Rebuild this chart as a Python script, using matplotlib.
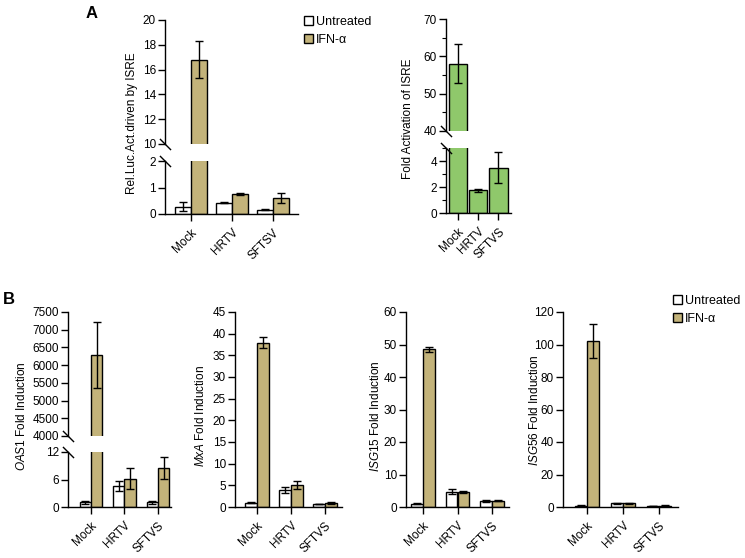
import numpy as np
import matplotlib
matplotlib.use('Agg')
import matplotlib.pyplot as plt
from matplotlib.patches import Patch
from matplotlib.ticker import MultipleLocator

plt.rcParams['font.family'] = ['Liberation Sans', 'DejaVu Sans']
plt.rcParams['font.size'] = 8.5
plt.rcParams['mathtext.fontset'] = 'custom'
plt.rcParams['mathtext.rm'] = 'Liberation Sans'
plt.rcParams['mathtext.it'] = 'Liberation Sans:italic'

W, H = 745, 558
TAN = '#c3b37a'
GREEN = '#8fc86b'

groups_a = ['Mock', 'HRTV', 'SFTSV']
groups_a2 = ['Mock', 'HRTV', 'SFTVS']
groups_b = ['Mock', 'HRTV', 'SFTVS']

# panel A left - luciferase
luc_untreated = [0.28, 0.43, 0.16]
luc_untreated_err = [0.18, 0.02, 0.02]
luc_ifn = [16.8, 0.77, 0.60]
luc_ifn_err = [1.5, 0.04, 0.20]

# panel A right - fold activation
fold_isre = [58.0, 1.75, 3.5]
fold_isre_err = [5.2, 0.12, 1.2]

# panel B
oas1_untreated = [1.0, 4.5, 1.0]
oas1_untreated_err = [0.3, 1.1, 0.3]
oas1_ifn = [6280, 6.2, 8.5]
oas1_ifn_err = [930, 2.3, 2.4]

mxa_untreated = [1.0, 3.9, 0.7]
mxa_untreated_err = [0.15, 0.7, 0.1]
mxa_ifn = [37.9, 5.1, 1.0]
mxa_ifn_err = [1.25, 1.0, 0.2]

isg15_untreated = [1.0, 4.7, 1.8]
isg15_untreated_err = [0.2, 0.8, 0.4]
isg15_ifn = [48.5, 4.5, 2.0]
isg15_ifn_err = [0.8, 0.3, 0.3]

isg56_untreated = [0.8, 2.2, 0.5]
isg56_untreated_err = [0.2, 0.3, 0.1]
isg56_ifn = [102, 2.3, 0.8]
isg56_ifn_err = [10.5, 0.4, 0.2]

fig = plt.figure(figsize=(W / 100, H / 100), dpi=100)


def px_axes(x0, y0, x1, y1):
    return fig.add_axes([x0 / W, 1 - y1 / H, (x1 - x0) / W, (y1 - y0) / H])


def style(ax, bottom=True):
    ax.spines['top'].set_visible(False)
    ax.spines['right'].set_visible(False)
    for s in ax.spines.values():
        s.set_linewidth(1.0)
    ax.tick_params(direction='out', length=5, width=1.0, pad=1.5)
    ax.tick_params(axis='x', pad=4)
    ax.tick_params(which='minor', direction='out', length=3, width=0.8)
    if not bottom:
        ax.spines['bottom'].set_visible(False)
        ax.tick_params(axis='x', bottom=False, labelbottom=False)


def pair_bars(ax, unt, unt_err, ifn, ifn_err, w):
    x = np.arange(3)
    ax.bar(x - w / 2, unt, w, color='white', edgecolor='black', linewidth=1.0, zorder=2)
    ax.bar(x + w / 2, ifn, w, color=TAN, edgecolor='black', linewidth=1.0, zorder=2)
    ax.errorbar(x - w / 2, unt, yerr=unt_err, fmt='none', ecolor='black',
                elinewidth=1.0, capsize=3, capthick=1.0, zorder=3)
    ax.errorbar(x + w / 2, ifn, yerr=ifn_err, fmt='none', ecolor='black',
                elinewidth=1.0, capsize=3, capthick=1.0, zorder=3)


def xlabels(ax, labels):
    ax.set_xticks(np.arange(3))
    ax.set_xticklabels(labels, rotation=45, ha='right', rotation_mode='anchor')


def break_marks(ax_top, ax_low):
    kw = dict(marker=[(-1, 1), (1, -1)], markersize=8, linestyle='none',
              color='k', mec='k', mew=1.0, clip_on=False)
    ax_top.plot([0], [0], transform=ax_top.transAxes, **kw)
    ax_low.plot([0], [1], transform=ax_low.transAxes, **kw)


# ---- A left (broken axis)
a1_top = px_axes(165, 20, 298, 144)
a1_low = px_axes(165, 161, 298, 214)
for ax in (a1_top, a1_low):
    pair_bars(ax, luc_untreated, luc_untreated_err, luc_ifn, luc_ifn_err, 0.4)
    ax.set_xlim(-0.634, 2.61)
a1_top.set_ylim(10, 20)
a1_top.set_yticks(range(10, 21, 2))
a1_low.set_ylim(0, 2)
a1_low.set_yticks([0, 1, 2])
style(a1_top, bottom=False)
style(a1_low)
xlabels(a1_low, groups_a)
break_marks(a1_top, a1_low)
fig.text(132 / W, 1 - 123 / H, 'Rel.Luc.Act.driven by ISRE', rotation=90, ha='center', va='center')

# ---- A right (broken axis)
a2_top = px_axes(446, 19, 511, 131)
a2_low = px_axes(446, 148, 511, 213)
x = np.arange(3)
for ax in (a2_top, a2_low):
    ax.bar(x, fold_isre, 0.9, color=GREEN, edgecolor='black', linewidth=1.0, zorder=2)
    ax.errorbar(x, fold_isre, yerr=fold_isre_err, fmt='none', ecolor='black',
                elinewidth=1.0, capsize=3, capthick=1.0, zorder=3)
    ax.set_xlim(-0.6, 2.62)
a2_top.set_ylim(40, 70)
a2_top.set_yticks([40, 50, 60, 70])
a2_top.yaxis.set_minor_locator(MultipleLocator(5))
a2_low.set_ylim(0, 5)
a2_low.set_yticks([0, 2, 4])
a2_low.yaxis.set_minor_locator(MultipleLocator(1))
style(a2_top, bottom=False)
style(a2_low)
xlabels(a2_low, groups_a2)
break_marks(a2_top, a2_low)
fig.text(408 / W, 1 - 119 / H, 'Fold Activation of ISRE', rotation=90, ha='center', va='center')

fig.text(92 / W, 1 - 14 / H, 'A', fontsize=12, fontweight='bold', ha='center', va='center')
fig.text(9 / W, 1 - 300 / H, 'B', fontsize=12, fontweight='bold', ha='center', va='center')

# ---- B OAS1 (broken axis)
b1_top = px_axes(68, 312, 171, 436)
b1_low = px_axes(68, 452, 171, 507)
for ax in (b1_top, b1_low):
    pair_bars(ax, oas1_untreated, oas1_untreated_err, oas1_ifn, oas1_ifn_err, 0.34)
    ax.set_xlim(-0.687, 2.39)
b1_top.set_ylim(4000, 7500)
b1_top.set_yticks(range(4000, 7501, 500))
b1_low.set_ylim(0, 12)
b1_low.set_yticks([0, 6, 12])
style(b1_top, bottom=False)
style(b1_low)
xlabels(b1_low, groups_b)
break_marks(b1_top, b1_low)
fig.text(22 / W, 1 - 416 / H, r'$\mathit{OAS1}$ Fold Induction', rotation=90, ha='center', va='center')

# ---- B MxA, ISG15, ISG56
simple = [
    ((235, 342), (-0.647, 2.5), 45, 5, mxa_untreated, mxa_untreated_err, mxa_ifn, mxa_ifn_err,
     r'$\mathit{MxA}$ Fold Induction', 200, 416),
    ((406, 509), (-0.49, 2.49), 60, 10, isg15_untreated, isg15_untreated_err, isg15_ifn, isg15_ifn_err,
     r'$\mathit{ISG15}$ Fold Induction', 375, 416),
    ((563, 678), (-0.667, 2.53), 120, 20, isg56_untreated, isg56_untreated_err, isg56_ifn, isg56_ifn_err,
     r'$\mathit{ISG56}$ Fold Induction', 535, 410),
]
for (x0, x1), xl, ymax, step, u, ue, f, fe, lab, lx, ly in simple:
    ax = px_axes(x0, 312, x1, 507)
    pair_bars(ax, u, ue, f, fe, 0.34)
    ax.set_xlim(*xl)
    ax.set_ylim(0, ymax)
    ax.set_yticks(np.arange(0, ymax + 1, step))
    style(ax)
    xlabels(ax, groups_b)
    fig.text(lx / W, 1 - ly / H, lab, rotation=90, ha='center', va='center')

# legends
handles = [Patch(facecolor='white', edgecolor='black', linewidth=1.0),
           Patch(facecolor=TAN, edgecolor='black', linewidth=1.0)]
leg_kw = dict(frameon=False, loc='upper left', handlelength=0.7, handleheight=0.7,
              handletextpad=0.25, labelspacing=0.45, borderpad=0, borderaxespad=0, fontsize=9)
fig.legend(handles, ['Untreated', 'IFN-α'], bbox_to_anchor=(304 / W, 1 - 16 / H), **leg_kw)
fig.legend(handles, ['Untreated', 'IFN-α'], bbox_to_anchor=(673 / W, 1 - 295 / H), **leg_kw)

fig.savefig('out.png', dpi=100)
